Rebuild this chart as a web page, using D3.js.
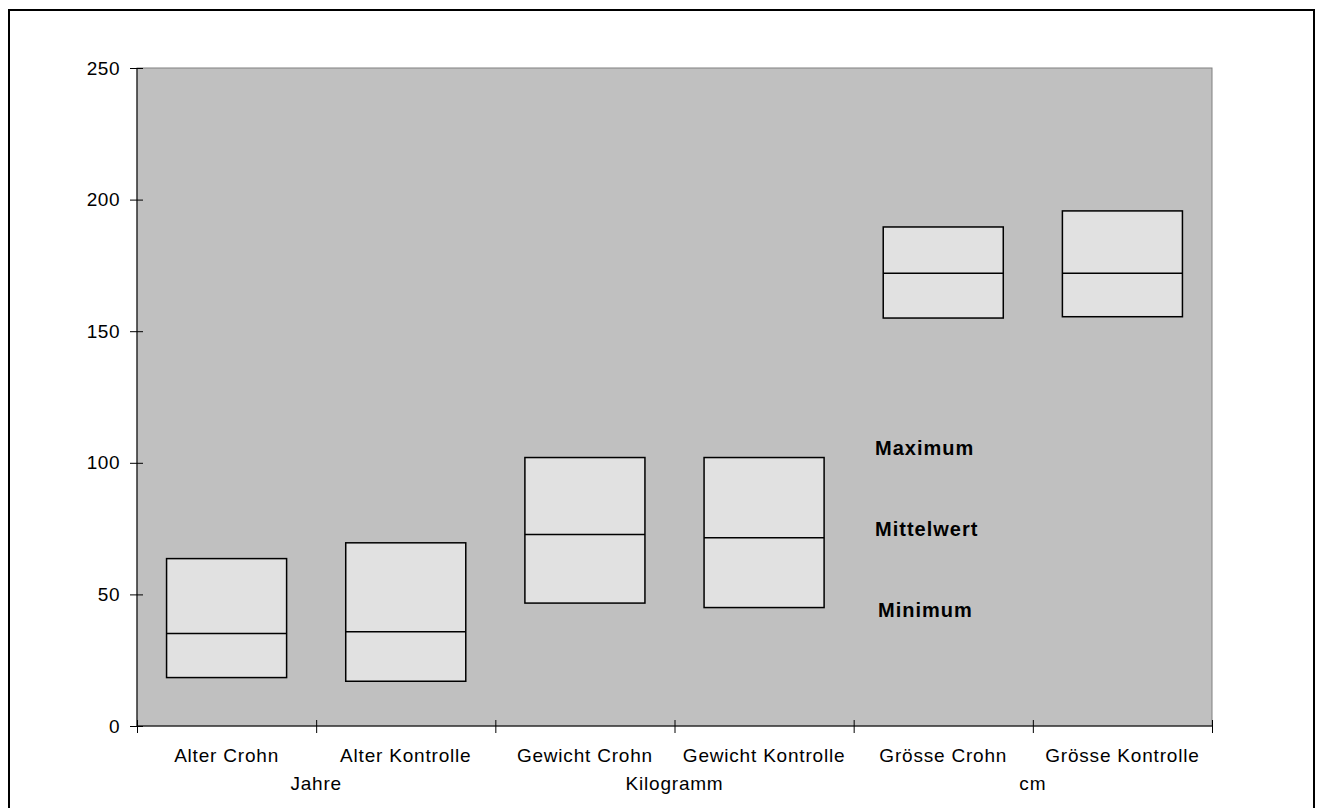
<!DOCTYPE html>
<meta charset="utf-8">
<head>
<style>
  body { margin: 0; background: #fff; }
  text { font-family: Arial, "Liberation Sans", sans-serif; }
</style>
</head>
<script src="https://d3js.org/d3.v7.min.js"></script>
<div id="chart"></div>
<script>
// data
var categories = ["Alter Crohn", "Alter Kontrolle", "Gewicht Crohn", "Gewicht Kontrolle", "Grösse Crohn", "Grösse Kontrolle"];
var minimum    = [18.4, 17, 46.7, 45, 155, 155.5];
var mittelwert = [35.1, 35.8, 72.8, 71.5, 172, 172];
var maximum    = [63.6, 69.6, 102, 102, 189.6, 195.7];
var units      = ["Jahre", "Kilogramm", "cm"];
var yTicks     = [0, 50, 100, 150, 200, 250];
var legendLabels = ["Maximum", "Mittelwert", "Minimum"];

var W = 1319, H = 808;
var margin = {top: 68, right: 107, bottom: 82, left: 137},
    width = W - margin.left - margin.right,
    height = H - margin.top - margin.bottom;

var root = d3.select("#chart").append("svg")
    .attr("width", W)
    .attr("height", H);

// outer frame
root.append("rect")
    .attr("x", 9).attr("y", 10)
    .attr("width", 1305).attr("height", 820)
    .attr("fill", "none")
    .attr("stroke", "#000")
    .attr("stroke-width", 2);

var svg = root.append("g")
    .attr("transform", "translate(" + margin.left + "," + margin.top + ")");

var x = d3.scaleBand()
    .domain(categories)
    .range([0, width])
    .paddingInner(0.33)
    .paddingOuter(0.165);

// positions of the category boundaries
var xb = d3.scaleLinear().domain([0, categories.length]).range([0, width]);

var y = d3.scaleLinear()
    .domain([0, 250])
    .range([height, 0]);

// plot area
svg.append("rect")
    .attr("width", width).attr("height", height)
    .attr("fill", "#c0c0c0")
    .attr("stroke", "#808080")
    .attr("stroke-width", 1);

// boxes
var data = categories.map(function(c, i) {
  return {name: c, min: minimum[i], mean: mittelwert[i], max: maximum[i]};
});

svg.selectAll("myBoxes")
  .data(data)
  .enter()
  .append("rect")
    .attr("x", function(d) { return x(d.name); })
    .attr("y", function(d) { return y(d.max); })
    .attr("width", x.bandwidth())
    .attr("height", function(d) { return y(d.min) - y(d.max); })
    .attr("fill", "#e1e1e1")
    .attr("stroke", "#000")
    .attr("stroke-width", 1.5);

svg.selectAll("myMeans")
  .data(data)
  .enter()
  .append("line")
    .attr("x1", function(d) { return x(d.name); })
    .attr("x2", function(d) { return x(d.name) + x.bandwidth(); })
    .attr("y1", function(d) { return y(d.mean); })
    .attr("y2", function(d) { return y(d.mean); })
    .attr("stroke", "#000")
    .attr("stroke-width", 1.5);

// Y axis
var yAxis = svg.append("g")
    .call(d3.axisLeft(y).tickValues(yTicks).tickSize(7).tickPadding(10));
yAxis.selectAll("text").style("font-size", "19px").style("letter-spacing", "0.5px").attr("fill", "#000");
yAxis.selectAll(".tick line").attr("x2", -7).attr("x1", 6);
yAxis.select(".domain").attr("d", "M0," + height + "V0");

// X axis (ticks at category boundaries)
var xAxis = svg.append("g")
    .attr("transform", "translate(0," + height + ")")
    .call(d3.axisBottom(xb).tickValues(d3.range(categories.length + 1)).tickSize(7).tickFormat(""));
xAxis.selectAll(".tick line").attr("y1", -6).attr("y2", 7);
xAxis.select(".domain").attr("d", "M0,0H" + width);

// category labels
svg.selectAll("myLabels")
  .data(categories)
  .enter()
  .append("text")
    .attr("x", function(d) { return x(d) + x.bandwidth() / 2; })
    .attr("y", height + 36)
    .attr("text-anchor", "middle")
    .style("font-size", "19px")
    .style("letter-spacing", "0.8px")
    .text(function(d) { return d; });

// unit labels under each pair
svg.selectAll("myUnits")
  .data(units)
  .enter()
  .append("text")
    .attr("x", function(d, i) { return xb(i * 2 + 1); })
    .attr("y", height + 64)
    .attr("text-anchor", "middle")
    .style("font-size", "19px")
    .style("letter-spacing", "0.8px")
    .text(function(d) { return d; });

// legend texts
var legendPos = [[738, 387], [738, 468], [741, 549]];
svg.selectAll("myLegend")
  .data(legendLabels)
  .enter()
  .append("text")
    .attr("x", function(d, i) { return legendPos[i][0]; })
    .attr("y", function(d, i) { return legendPos[i][1]; })
    .style("font-size", "20px")
    .style("font-weight", "bold")
    .style("letter-spacing", "1px")
    .text(function(d) { return d; });
</script>
